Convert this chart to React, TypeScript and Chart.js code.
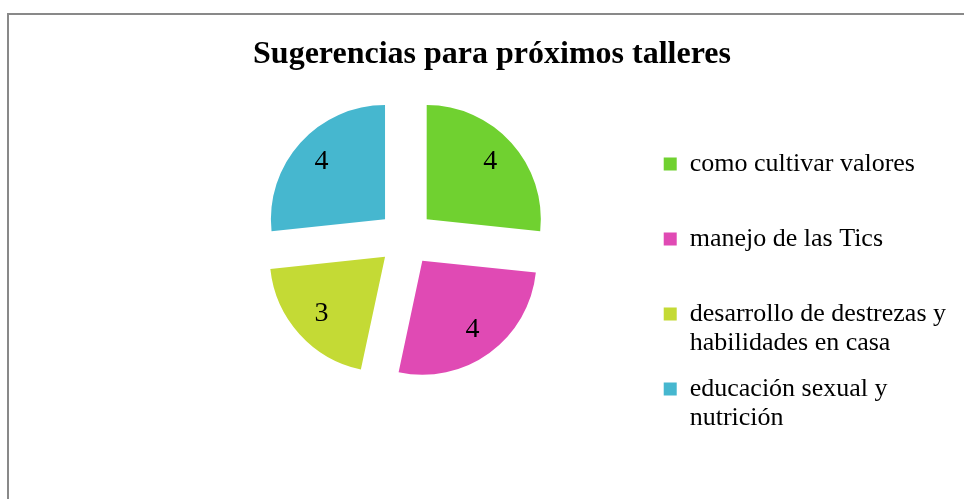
import React, { useEffect, useRef } from "react";
import { Chart, registerables } from "chart.js";

Chart.register(...registerables);

const chartTitle = "Sugerencias para próximos talleres";
const categories: string[][] = [
  ["como cultivar valores"],
  ["manejo de las Tics"],
  ["desarrollo de destrezas y", "habilidades en casa"],
  ["educación sexual y", "nutrición"],
];
const values: number[] = [4, 4, 3, 4];
const colors: string[] = ["#70d130", "#e04ab4", "#c4da35", "#46b7cf"];

const SERIF = "'Liberation Serif', 'Times New Roman', serif";

const titlePlugin = {
  id: "customTitle",
  afterDraw(chart: any) {
    const ctx = chart.ctx;
    ctx.save();
    ctx.font = `bold 32px ${SERIF}`;
    ctx.fillStyle = "#000";
    ctx.textAlign = "center";
    ctx.textBaseline = "alphabetic";
    ctx.fillText(chartTitle, 492, 63);
    ctx.restore();
  },
};

const sliceLabelPlugin = {
  id: "sliceLabels",
  afterDatasetsDraw(chart: any) {
    const meta = chart.getDatasetMeta(0);
    const ctx = chart.ctx;
    ctx.save();
    ctx.font = `28px ${SERIF}`;
    ctx.fillStyle = "#000";
    ctx.textAlign = "center";
    ctx.textBaseline = "middle";
    meta.data.forEach((arc: any, i: number) => {
      const { x, y, startAngle, endAngle, outerRadius } = arc.getProps(
        ["x", "y", "startAngle", "endAngle", "outerRadius"],
        true
      );
      const mid = (startAngle + endAngle) / 2;
      const shift = (arc.options.offset || 0) / 4;
      const r = shift + outerRadius * 0.75;
      ctx.fillText(String(values[i]), x + Math.cos(mid) * r, y + Math.sin(mid) * r);
    });
    ctx.restore();
  },
};

export default function App() {
  const canvasRef = useRef<HTMLCanvasElement | null>(null);

  useEffect(() => {
    if (!canvasRef.current) return;
    const chart = new Chart(canvasRef.current, {
      type: "pie",
      data: {
        labels: categories as any,
        datasets: [
          {
            data: values,
            backgroundColor: colors,
            borderWidth: 0,
            offset: 112,
          } as any,
        ],
      },
      options: {
        animation: false,
        responsive: false,
        radius: 114,
        layout: { padding: { left: 165, right: 8, top: 25, bottom: 48 } },
        plugins: {
          title: { display: false },
          tooltip: { enabled: false },
          legend: {
            position: "right",
            align: "end",
            labels: {
              boxWidth: 13,
              boxHeight: 13,
              padding: 17,
              color: "#000",
              font: { family: SERIF, size: 26, lineHeight: 29 / 26 },
              generateLabels: () =>
                categories.map((lines, i) => ({
                  text: (lines.length < 2 ? [...lines, ""] : lines) as any,
                  fillStyle: colors[i],
                  strokeStyle: colors[i],
                  fontColor: "#000",
                  lineWidth: 0,
                  hidden: false,
                  index: i,
                })),
            },
          },
        },
      } as any,
      plugins: [titlePlugin, sliceLabelPlugin],
    });
    return () => chart.destroy();
  }, []);

  return (
    <div
      style={{
        position: "fixed",
        left: 0,
        top: 0,
        width: 964,
        height: 499,
        overflow: "hidden",
        background: "#fff",
      }}
    >
      <div
        style={{
          position: "absolute",
          left: 7,
          top: 13,
          width: 1200,
          height: 800,
          border: "2px solid #898989",
          boxSizing: "border-box",
        }}
      />
      <canvas
        ref={canvasRef}
        width={964}
        height={499}
        style={{ position: "absolute", left: 0, top: 0, width: 964, height: 499 }}
      />
    </div>
  );
}
